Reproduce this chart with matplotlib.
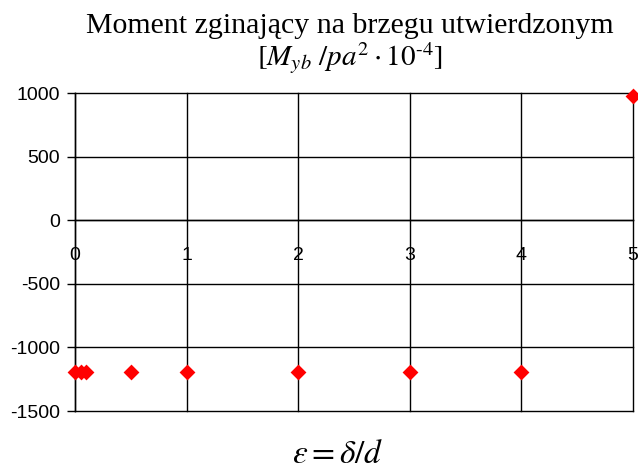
import matplotlib.pyplot as plt

plt.rcParams['axes.unicode_minus'] = False

# dane: epsilon = delta/d oraz moment na brzegu utwierdzonym
eps = [0, 0.05, 0.1, 0.5, 1, 2, 3, 4, 5]
moment = [-1190, -1190, -1190, -1190, -1190, -1190, -1190, -1190, 980]

xticks = [0, 1, 2, 3, 4, 5]
yticks = [-1500, -1000, -500, 0, 500, 1000]

fig = plt.figure(figsize=(6.38, 4.70), dpi=100)
ax = fig.add_axes([0.1176, 0.1255, 0.8746, 0.6766])

ax.set_xlim(0, 5)
ax.set_ylim(-1500, 1000)
ax.set_xticks(xticks)
ax.set_yticks(yticks)

# siatka
for x in xticks:
    ax.axvline(x, color='black', lw=1, zorder=1, clip_on=False)
for y in yticks:
    ax.axhline(y, color='black', lw=1, zorder=1, clip_on=False)

for s in ['top', 'right']:
    ax.spines[s].set_visible(False)
ax.spines['left'].set_linewidth(1)
ax.spines['bottom'].set_position(('data', 0))
ax.spines['bottom'].set_linewidth(1)

ax.scatter(eps, moment, marker='D', s=65, color='red', zorder=5, clip_on=False, linewidths=0)

ax.tick_params(axis='y', direction='out', length=6, width=1, labelsize=14, pad=5)
ax.tick_params(axis='x', length=0, labelsize=14, pad=19)
for lab in ax.get_xticklabels() + ax.get_yticklabels():
    lab.set_fontfamily('Liberation Sans')

fig.text(0.549, 0.945, 'Moment zginający na brzegu utwierdzonym',
         ha='center', va='center', fontsize=21.5, family='Liberation Serif')
fig.text(0.549, 0.877, r'$[M_{yb}\ /pa^2 \cdot 10^{\text{-}4}]$',
         ha='center', va='center', fontsize=21, math_fontfamily='stix')
fig.text(0.530, 0.036, r'$\varepsilon = \delta/d$',
         ha='center', va='center', fontsize=24, math_fontfamily='stix')

fig.savefig('out.png', dpi=100)
